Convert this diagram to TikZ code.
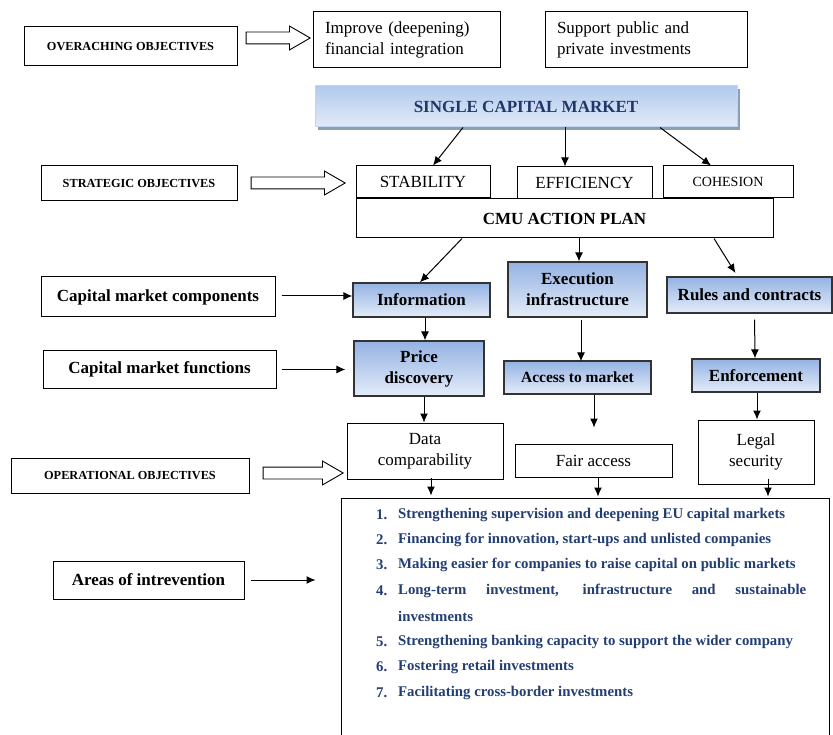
\documentclass[tikz,border=0pt]{standalone}
\usepackage{fontspec}
\setmainfont{Liberation Serif}
\usetikzlibrary{shapes,arrows,arrows.meta}

\definecolor{boxblue}{RGB}{148,178,226}
\definecolor{boxpale}{RGB}{228,236,249}
\definecolor{listblue}{RGB}{35,62,115}
\definecolor{scmtop}{RGB}{178,202,236}
\definecolor{scmbot}{RGB}{226,235,249}
\definecolor{scmshadow}{RGB}{140,160,180}

\tikzset{
  plain/.style={draw, line width=1pt, inner sep=2pt, font=\fontsize{17}{21}\selectfont, align=center},
  bluebox/.style={plain, line width=1.3pt, draw=black!80, top color=boxblue, bottom color=boxpale, font=\bfseries\fontsize{17}{21}\selectfont},
  level/.style={plain, font=\bfseries\fontsize{12.3}{14}\selectfont},
  arr/.style={-{Latex[length=9pt,width=8pt]}, line width=1pt},
  hollow/.style={single arrow, draw, line width=0.9pt, inner sep=5.5pt, single arrow head extend=6pt, single arrow tip angle=60, minimum height=#1},
  item/.style={anchor=west, inner sep=0pt, text=listblue, font=\bfseries\fontsize{14.8}{18}\selectfont}
}

\begin{document}
\begin{tikzpicture}[x=1pt,y=-1pt]
  \useasboundingbox[fill=white] (0,0) rectangle (833,735);

  % objectives on the left
  \node[level, minimum width=213, minimum height=39] (over) at (130.5,46.5) {OVERACHING OBJECTIVES};
  \node[level, minimum width=196, minimum height=35] (strat) at (139,183.5) {STRATEGIC OBJECTIVES};
  \node[plain, font=\bfseries\fontsize{17}{21}\selectfont, minimum width=234, minimum height=40] (comp) at (158,297) {Capital market components};
  \node[plain, font=\bfseries\fontsize{17}{21}\selectfont, minimum width=233, minimum height=37] (func) at (159.5,369.5) {Capital market functions};
  \node[level, minimum width=238, minimum height=35] (oper) at (130,475.5) {OPERATIONAL OBJECTIVES};
  \node[plain, font=\bfseries\fontsize{17}{21}\selectfont, minimum width=191, minimum height=38] (areas) at (148.5,580) {Areas of intrevention};

  \node[hollow=64] (ovarrow) at (273,38) {};
  \node[hollow=94] (starrow) at (293,183) {};
  \node[hollow=80] (oparrow) at (298,473) {};

  % top
  \node[plain, align=left, inner xsep=12pt, text width=163, minimum height=56] (improve) at (406.5,40) {Improve (deepening)\\financial integration};
  \node[plain, align=left, inner xsep=12pt, text width=178, minimum height=56] (support) at (646,40) {Support public and\\private investments};

  \fill[scmshadow] (318,89) rectangle (740,130);
  \node[draw=scmtop!80!white, line width=1pt, top color=scmtop, bottom color=scmbot, minimum width=422, minimum height=41, text=listblue!90!black, font=\bfseries\fontsize{17}{21}\selectfont] (scm) at (526,106.5) {SINGLE CAPITAL MARKET};

  \node[plain, minimum width=134, minimum height=32] (stab) at (423,182) {STABILITY};
  \node[plain, minimum width=135, minimum height=32] (eff) at (584.5,183) {EFFICIENCY};
  \node[plain, font=\fontsize{14}{17}\selectfont, minimum width=130, minimum height=32] (coh) at (728,182) {COHESION};
  \node[plain, font=\bfseries\fontsize{17}{21}\selectfont, minimum width=417, minimum height=39] (cmu) at (564.5,218.5) {CMU ACTION PLAN};

  % components, functions, operational objectives
  \node[bluebox, minimum width=137, minimum height=34] (info) at (421.5,300) {Information};
  \node[bluebox, minimum width=139, minimum height=55] (exec) at (577.5,289.5) {Execution\\infrastructure};
  \node[bluebox, minimum width=165, minimum height=36] (rules) at (749.5,295) {Rules and contracts};

  \node[bluebox, minimum width=130, minimum height=55] (price) at (419,368.5) {Price\\discovery};
  \node[bluebox, font=\bfseries\fontsize{15.5}{19}\selectfont, minimum width=147, minimum height=33] (access) at (577.5,377.5) {Access to market};
  \node[bluebox, minimum width=128, minimum height=33] (enf) at (756,375.5) {Enforcement};

  \node[plain, minimum width=156, minimum height=56] (data) at (425,451) {Data\\comparability};
  \node[plain, minimum width=157, minimum height=33] (fair) at (593.5,460.5) {Fair access};
  \node[plain, minimum width=116, minimum height=64] (legal) at (756,452) {Legal\\security};

  \node[plain, minimum width=488, minimum height=262] (list) at (585,629) {};

  \foreach \n/\y/\t in {1/515/{Strengthening supervision and deepening EU capital markets},
      2/540/{Financing for innovation, start-ups and unlisted companies},
      3/565/{Making easier for companies to raise capital on public markets},
      4/591/{\makebox[408pt][s]{Long-term investment, infrastructure and sustainable}},
      5/642/{Strengthening banking capacity to support the wider company},
      6/667/{Fostering retail investments},
      7/693/{Facilitating cross-border investments}}{
    \node[item] (num\n) at (376,\y) {\n.};
    \node[item] (item\n) at (398,\y) {\t};
  }
  \node[item] (item4b) at (398,616) {investments};

  % connectors
  \draw[arr] ([xshift=-63]scm.south) -- ([xshift=10]stab.north);
  \draw[arr] ([xshift=39]scm.south) -- ([xshift=-19.5]eff.north);
  \draw[arr] ([xshift=134]scm.south) -- ([xshift=-17]coh.north);

  \draw[arr] ([xshift=-102.5]cmu.south) -- ([xshift=-1.5]info.north);
  \draw[arr] ([xshift=14.5]cmu.south) -- ([xshift=1.5]exec.north);
  \draw[arr, shorten >=4pt] ([xshift=149.5]cmu.south) -- ([xshift=-12]rules.north);

  \draw[arr, shorten <=6pt] ([yshift=1]comp.east) -- ([yshift=1]comp.east -| info.west);
  \draw[arr, shorten <=5pt, shorten >=8pt] (func.east) -- (func.east -| price.west);
  \draw[arr, shorten <=6pt, shorten >=25pt] (areas.east) -- (areas.east -| list.west);

  \draw[arr] ([xshift=3.5]info.south) -- ([xshift=6]price.north);
  \draw[arr, shorten <=2pt] ([xshift=3.5]exec.south) -- ([xshift=3.5,yshift=-1]access.north);
  \draw[arr, shorten <=6pt] ([xshift=5]rules.south) -- ([xshift=-1]enf.north);

  \draw[arr] ([xshift=5]price.south) -- ([xshift=-1]data.north);
  \draw[arr, shorten >=16pt] ([xshift=16.5]access.south) -- ([xshift=0.5]fair.north);
  \draw[arr] ([xshift=1]enf.south) -- ([xshift=1]legal.north);

  \draw[arr, shorten <=-2pt, shorten >=2pt] ([xshift=6]data.south) -- ([xshift=6]data.south |- list.north);
  \draw[arr, shorten >=1pt] ([xshift=4.5]fair.south) -- ([xshift=4.5]fair.south |- list.north);
  \draw[arr, shorten <=-6pt, shorten >=1pt] ([xshift=12]legal.south) -- ([xshift=12]legal.south |- list.north);
\end{tikzpicture}
\end{document}
